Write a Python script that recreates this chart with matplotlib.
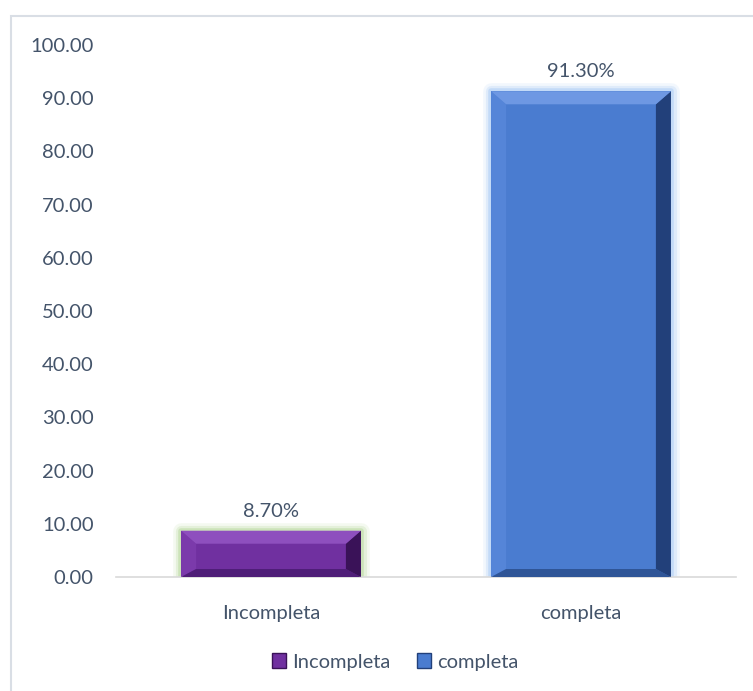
import numpy as np
import matplotlib.pyplot as plt
from matplotlib.patches import Polygon, Rectangle, Patch

# data
categories = ['Incompleta', 'completa']
values = [8.70, 91.30]
labels = ['8.70%', '91.30%']
colors = ['#7030A0', '#4A7CD0']
light_top = ['#8E4FBE', '#6E98E3']
light_left = ['#7B3AAB', '#5585D8']
dark_right = ['#3A1258', '#22407A']
dark_bottom = ['#4F1E78', '#2F5597']
glow = ['#B5D79A', '#A8CBF5']

text_col = '#44546A'
fs = 14.5
plt.rcParams['font.family'] = ['Lato', 'DejaVu Sans']

fig = plt.figure(figsize=(7.53, 6.91), dpi=100)
ax_w, ax_h = 620, 532
ax = fig.add_axes([116 / 753, 114 / 691, ax_w / 753, ax_h / 691])

x = np.arange(len(categories))
ax.set_xlim(-0.5, 1.5)
ax.set_ylim(0, 100)

# glow behind bars
for i, v in enumerate(values):
    for lw, a in [(12, 0.14), (8, 0.25), (4, 0.5)]:
        ax.add_patch(Rectangle((x[i] - 0.29, 0), 0.58, v, fill=False,
                               edgecolor=glow[i], linewidth=lw, alpha=a,
                               zorder=1, joinstyle='round'))

bars = ax.bar(x, values, width=0.58, color=colors, zorder=2)

# bevel in pixels -> data units
px_x = 2.0 / ax_w
px_y = 100.0 / ax_h
for i, b in enumerate(bars):
    x0, w, h = b.get_x(), b.get_width(), b.get_height()
    x1 = x0 + w
    bx, by_t, by_b = 15 * px_x, 13 * px_y, 8 * px_y
    top = [(x0, h), (x1, h), (x1 - bx, h - by_t), (x0 + bx, h - by_t)]
    left = [(x0, 0), (x0, h), (x0 + bx, h - by_t), (x0 + bx, by_b)]
    right = [(x1, 0), (x1, h), (x1 - bx, h - by_t), (x1 - bx, by_b)]
    bottom = [(x0, 0), (x1, 0), (x1 - bx, by_b), (x0 + bx, by_b)]
    ax.add_patch(Polygon(left, closed=True, color=light_left[i], lw=0, zorder=3))
    ax.add_patch(Polygon(bottom, closed=True, color=dark_bottom[i], lw=0, zorder=3))
    ax.add_patch(Polygon(right, closed=True, color=dark_right[i], lw=0, zorder=3))
    ax.add_patch(Polygon(top, closed=True, color=light_top[i], lw=0, zorder=3))
    ax.annotate(labels[i], (b.get_x() + w / 2, h), xytext=(0, 8),
                textcoords='offset points', ha='center', va='bottom',
                fontsize=fs, color=text_col)

ax.set_xticks(x)
ax.set_xticklabels(categories)
ax.set_yticks(np.arange(0, 101, 10))
ax.set_yticklabels([f'{t:.2f}' for t in np.arange(0, 101, 10)])
ax.tick_params(axis='both', length=0, labelsize=fs, colors=text_col)
ax.tick_params(axis='y', pad=16)
ax.tick_params(axis='x', pad=20)

for s in ['top', 'right', 'left']:
    ax.spines[s].set_visible(False)
ax.spines['bottom'].set_color('#D9D9D9')
ax.spines['bottom'].set_linewidth(1.2)

handles = [Patch(facecolor=colors[i], edgecolor=dark_right[i]) for i in range(2)]
fig.legend(handles, categories, loc='center', ncol=2,
           bbox_to_anchor=(395 / 753, 1 - 662 / 691), frameon=False,
           fontsize=fs, labelcolor=text_col, handlelength=0.7,
           handleheight=0.7, handletextpad=0.3, columnspacing=1.3)

# chart area border
fig.patches.append(Rectangle((11 / 753, -0.1), 1.2, 1 - 16 / 691 + 0.1,
                             transform=fig.transFigure, fill=False,
                             edgecolor='#D9DEE5', linewidth=1.5))

plt.savefig('out.png', dpi=100)
